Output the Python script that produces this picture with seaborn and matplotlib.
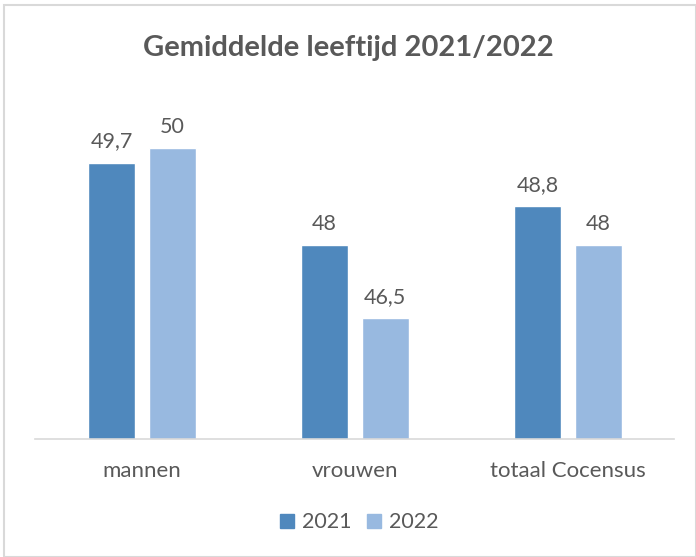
import pandas as pd
import numpy as np
import matplotlib.pyplot as plt
import seaborn as sns
from matplotlib.patches import Rectangle

# data
categories = ['mannen', 'vrouwen', 'totaal Cocensus']
jaren = ['2021', '2022']
waarden_2021 = [49.7, 48.0, 48.8]
waarden_2022 = [50.0, 46.5, 48.0]
kleuren = ['#4F88BD', '#98B9E0']

df = pd.DataFrame({
    'categorie': categories * 2,
    'jaar': [jaren[0]] * 3 + [jaren[1]] * 3,
    'leeftijd': waarden_2021 + waarden_2022,
})

sns.set_style('white')
plt.rcParams['font.family'] = ['Lato', 'DejaVu Sans']
tekst = '#595959'

fig = plt.figure(figsize=(6.96, 5.57), dpi=100)
ax = fig.add_axes([0.051, 0.2118, 0.918, 0.6096])

sns.barplot(data=df, x='categorie', y='leeftijd', hue='jaar', palette=kleuren,
            width=0.57, gap=0.23, ax=ax, legend=False, saturation=1)

ax.set_ylim(44, 51)
ax.set_xlim(-0.5, 2.5)
ax.set_xlabel('')
ax.set_ylabel('')
ax.set_yticks([])
for s in ['top', 'right', 'left']:
    ax.spines[s].set_visible(False)
ax.spines['bottom'].set_color('#D9D9D9')
ax.spines['bottom'].set_linewidth(1.2)
ax.tick_params(axis='x', length=0, pad=16, labelsize=16, labelcolor=tekst)

# value labels with Dutch decimal comma
for cont in ax.containers:
    labels = [f'{v:g}'.replace('.', ',') for v in cont.datavalues]
    ax.bar_label(cont, labels=labels, padding=8, fontsize=15.5, color=tekst)

fig.text(0.5, 0.914, 'Gemiddelde leeftijd 2021/2022', ha='center', va='center',
         fontsize=21, fontweight='bold', color=tekst)

# legend
handles = [Rectangle((0, 0), 1, 1, color=c) for c in kleuren]
fig.legend(handles, jaren, loc='center', bbox_to_anchor=(0.516, 0.062), ncol=2,
           frameon=False, fontsize=15.5, labelcolor=tekst, handlelength=0.65,
           handleheight=0.65, handletextpad=0.35, columnspacing=0.75)

# chart border
fig.patches.append(Rectangle((0.006, 0.0), 0.994, 0.991, transform=fig.transFigure,
                             fill=False, edgecolor='#D9D9D9', linewidth=1.5))

fig.savefig('out.png', dpi=100)
